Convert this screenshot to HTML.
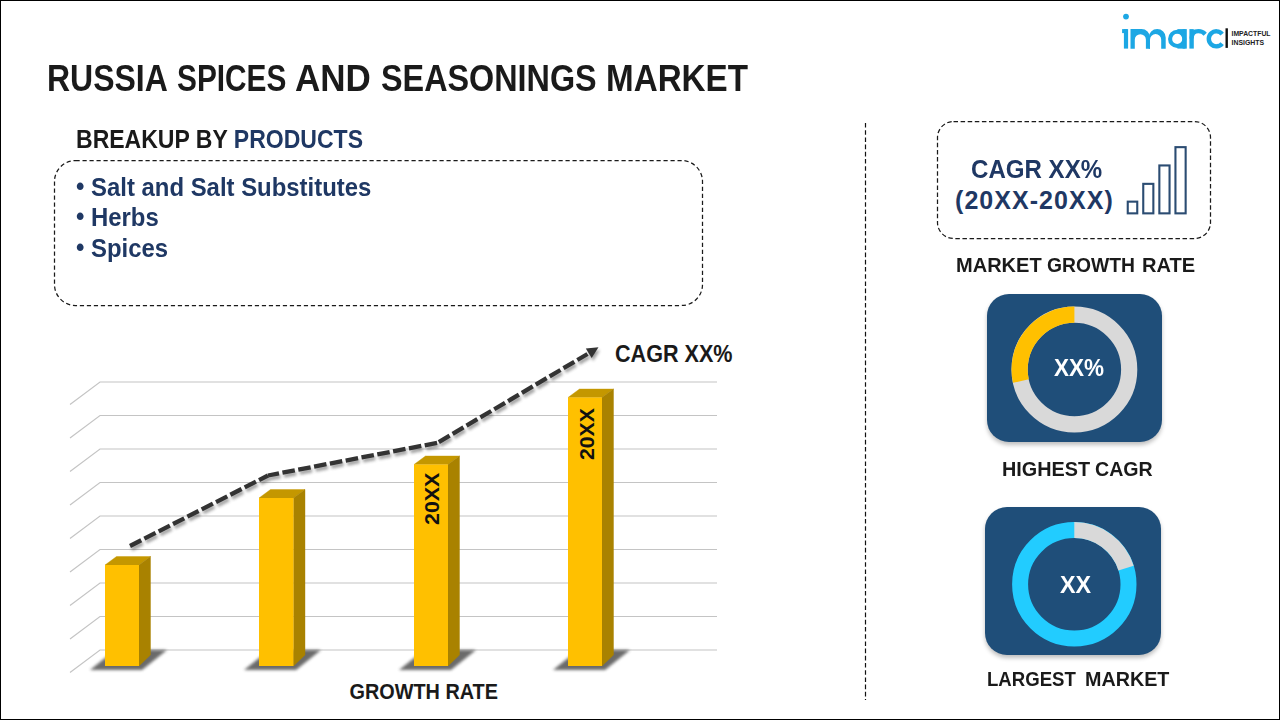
<!DOCTYPE html>
<html><head><meta charset="utf-8">
<style>
*{margin:0;padding:0;box-sizing:border-box}
html,body{width:1280px;height:720px;overflow:hidden;background:#fff}
body{position:relative;font-family:"Liberation Sans",sans-serif;font-weight:bold;color:#1a1a1a}
#frame{position:absolute;left:0;top:0;width:1280px;height:720px;border:1px solid #000}
.a{position:absolute;white-space:nowrap;line-height:1}
.tw{top:60px;font-size:37px;color:#1a1a1a;transform-origin:0 0}
#breakup{left:76px;top:126.5px;font-size:25.5px;transform:scaleX(0.903);transform-origin:0 0}
#breakup span{color:#1f3864}
.bl{font-size:25px;color:#1f3864;left:91px;transform:scaleX(0.9565);transform-origin:0 0}
.bul{left:76px;margin-top:1px}
.card{position:absolute;background:#1f4e79;border-radius:22px;box-shadow:0 3px 4px rgba(0,0,0,.25)}
.lbl{font-size:21px;color:#1a1a1a;transform-origin:0 0}
</style></head>
<body>
<div id="frame"></div>

<!-- logo -->
<svg class="a" style="left:1110px;top:5px" width="170" height="55" viewBox="1110 5 170 55">
  <g fill="#1ca7e4">
    <circle cx="1126" cy="16.6" r="2.9"/>
    <rect x="1123.9" y="29.1" width="4.2" height="19.5"/>
    <rect x="1122.1" y="29.1" width="5" height="4"/>
        <path d="M1130.5,48.7 V29.1 H1141.5 A8.5,8.5 0 0 1 1150,37.6 V48.7 H1145.9 V39.7 A5.55,5.55 0 0 0 1134.8,39.7 V48.7 Z"/>
    <path d="M1148.7,48.7 V37.6 A8.5,8.5 0 0 1 1165.7,37.6 V48.7 H1161.2 V39.7 A5.6,5.6 0 0 0 1150,39.7 V48.7 Z"/>
    <rect x="1189.4" y="29.1" width="4.4" height="19.5"/>
    <rect x="1182.6" y="29.1" width="4.2" height="19.5"/>
    <rect x="1177.4" y="29.1" width="8" height="4.2"/>
    <rect x="1177.4" y="44.4" width="8" height="4.2"/>
  </g>
  <g fill="none" stroke="#1ca7e4" stroke-width="4.3">
    <circle cx="1177.2" cy="38.9" r="7.1" stroke-width="4.1"/>
    <path d="M1191.6,38.5 Q1191.6,31.2 1198.5,31.2 Q1202.5,31.2 1205.2,34.2"/>
    <path d="M1222.13,34.13 A7.5,7.5 0 1 0 1222.13,43.57" stroke-width="4.45"/>
  </g>
  <rect x="1225.5" y="28.3" width="2.4" height="19.6" fill="#111"/>
  <text x="1231.5" y="36.2" font-family="Liberation Sans" font-weight="bold" font-size="7.4" fill="#222" textLength="39" lengthAdjust="spacingAndGlyphs">IMPACTFUL</text>
  <text x="1231.5" y="44.8" font-family="Liberation Sans" font-weight="bold" font-size="7.4" fill="#222" textLength="32.5" lengthAdjust="spacingAndGlyphs">INSIGHTS</text>
</svg>

<div class="a tw" style="left:47.37px;transform:scaleX(0.8642)">RUSSIA</div><div class="a tw" style="left:177.29px;transform:scaleX(0.806)">SPICES</div><div class="a tw" style="left:295.45px;transform:scaleX(0.9462)">AND</div><div class="a tw" style="left:380.83px;transform:scaleX(0.8742)">SEASONINGS</div><div class="a tw" style="left:605.91px;transform:scaleX(0.8974)">MARKET</div>
<div class="a" id="breakup">BREAKUP BY <span>PRODUCTS</span></div>
<svg class="a" style="left:0;top:0" width="1280" height="720" viewBox="0 0 1280 720">
  <rect x="54.5" y="160.5" width="648" height="145" rx="21" fill="none" stroke="#1a1a1a" stroke-width="1.25" stroke-dasharray="4.2 2.8"/>
  <rect x="937.5" y="121.5" width="273" height="117" rx="16" fill="none" stroke="#1a1a1a" stroke-width="1.25" stroke-dasharray="4.5 2.6"/>
  <line x1="865.5" y1="123" x2="865.5" y2="700" stroke="#111" stroke-width="1.2" stroke-dasharray="4.6 2.6"/>
</svg>
<div class="a bl bul" style="top:173px">•</div><div class="a bl" style="top:174.5px">Salt and Salt Substitutes</div>
<div class="a bl bul" style="top:203px">•</div><div class="a bl" style="top:205px">Herbs</div>
<div class="a bl bul" style="top:234px">•</div><div class="a bl" style="top:236px">Spices</div>

<!-- chart -->
<svg class="a" style="left:0;top:330px" width="860" height="390" viewBox="0 330 860 390">
  <defs>
    <filter id="sh" x="-50%" y="-50%" width="200%" height="200%"><feGaussianBlur stdDeviation="1.6"/></filter>
    <filter id="lsh" x="-10%" y="-10%" width="120%" height="120%"><feGaussianBlur stdDeviation="1.5"/></filter>
  </defs>
  <g stroke="#c4c4c4" stroke-width="1.2" fill="none">
    <polyline points="70,404.5 100,382 717,382"/>
    <polyline points="70,438 100,415.5 717,415.5"/>
    <polyline points="70,471.5 100,449 717,449"/>
    <polyline points="70,505 100,482.5 717,482.5"/>
    <polyline points="70,538.5 100,516 717,516"/>
    <polyline points="70,572 100,549.5 717,549.5"/>
    <polyline points="70,605.5 100,583 717,583"/>
    <polyline points="70,639 100,616.5 717,616.5"/>
    <polyline points="70,672.5 100,650 717,650"/>
  </g>
  <!-- bar shadows -->
  <g fill="#5a5a5a" opacity="0.9" filter="url(#sh)">
    <polygon points="90,670 142,670 167,650 115,650"/>
    <polygon points="244,670 296,670 321,650 269,650"/>
    <polygon points="399,670 451,670 476,650 424,650"/>
    <polygon points="553,670 605,670 630,650 578,650"/>
  </g>
  <!-- bars -->
  <g>
    <polygon points="105,565 139,565 150.5,556.5 116.5,556.5" fill="#c49700" stroke="#c49700" stroke-width="0.4"/>
    <polygon points="139,565 150.5,556.5 150.5,655 139,666" fill="#a98200" stroke="#a98200" stroke-width="0.4"/>
    <rect x="105" y="565" width="34" height="101" fill="#ffc000"/>

    <polygon points="259,498 293.5,498 305,489.5 270.5,489.5" fill="#c49700" stroke="#c49700" stroke-width="0.4"/>
    <polygon points="293.5,498 305,489.5 305,655 293.5,666" fill="#a98200" stroke="#a98200" stroke-width="0.4"/>
    <rect x="259" y="498" width="34.5" height="168" fill="#ffc000"/>

    <polygon points="414,464.5 448,464.5 459.5,456 425.5,456" fill="#c49700" stroke="#c49700" stroke-width="0.4"/>
    <polygon points="448,464.5 459.5,456 459.5,655 448,666" fill="#a98200" stroke="#a98200" stroke-width="0.4"/>
    <rect x="414" y="464.5" width="34" height="201.5" fill="#ffc000"/>

    <polygon points="568,397.5 602,397.5 613.5,389 579.5,389" fill="#c49700" stroke="#c49700" stroke-width="0.4"/>
    <polygon points="602,397.5 613.5,389 613.5,655 602,666" fill="#a98200" stroke="#a98200" stroke-width="0.4"/>
    <rect x="568" y="397.5" width="34" height="268.5" fill="#ffc000"/>
  </g>
  <text transform="translate(439,525) rotate(-90)" font-family="Liberation Sans" font-weight="bold" font-size="20" fill="#111" textLength="52.3" lengthAdjust="spacingAndGlyphs">20XX</text>
  <text transform="translate(593.5,460) rotate(-90)" font-family="Liberation Sans" font-weight="bold" font-size="20" fill="#111" textLength="51.8" lengthAdjust="spacingAndGlyphs">20XX</text>
  <!-- trend line -->
  <g filter="url(#lsh)" opacity="0.45" transform="translate(1.5,3)">
    <line x1="130" y1="546" x2="268" y2="475.5" stroke="#333" stroke-width="4.3" stroke-dasharray="12.6 3.5" stroke-dashoffset="0"/>
    <line x1="268" y1="475.5" x2="437.5" y2="442.8" stroke="#333" stroke-width="4.3" stroke-dasharray="12.6 3.5" stroke-dashoffset="1.4"/>
    <line x1="437.5" y1="442.8" x2="587.5" y2="354" stroke="#333" stroke-width="4.3" stroke-dasharray="12.6 3.5" stroke-dashoffset="-1.5"/>
    <polygon points="585.8,348.5 598.5,347.3 591.7,358" fill="#333"/>
  </g>
  <g>
    <line x1="130" y1="546" x2="268" y2="475.5" stroke="#333" stroke-width="4.3" stroke-dasharray="12.6 3.5" stroke-dashoffset="0"/>
    <line x1="268" y1="475.5" x2="437.5" y2="442.8" stroke="#333" stroke-width="4.3" stroke-dasharray="12.6 3.5" stroke-dashoffset="1.4"/>
    <line x1="437.5" y1="442.8" x2="587.5" y2="354" stroke="#333" stroke-width="4.3" stroke-dasharray="12.6 3.5" stroke-dashoffset="-1.5"/>
  </g>
  <polygon points="585.8,348.5 598.5,347.3 591.7,358" fill="#333"/>
  <text x="615" y="361.7" font-family="Liberation Sans" font-weight="bold" font-size="24" fill="#1a1a1a" textLength="117.5" lengthAdjust="spacingAndGlyphs">CAGR XX%</text>
  <text x="349.5" y="699" font-family="Liberation Sans" font-weight="bold" font-size="21.8" fill="#1a1a1a" textLength="148.5" lengthAdjust="spacingAndGlyphs">GROWTH RATE</text>
</svg>



<!-- right panel -->

<div class="a" style="left:970.5px;top:156.5px;font-size:25px;color:#1f3864;transform:scaleX(0.963);transform-origin:0 0">CAGR XX%</div>
<div class="a" style="left:955px;top:187.5px;font-size:25px;color:#1f3864;letter-spacing:1.05px">(20XX-20XX)</div>
<svg class="a" style="left:1120px;top:140px" width="75" height="80" viewBox="1120 140 75 80">
  <g fill="none" stroke="#2b4c72" stroke-width="2.1">
    <rect x="1127.75" y="201.65" width="9.5" height="11.7"/>
    <rect x="1143.25" y="183.85" width="10.1" height="29.5"/>
    <rect x="1159.35" y="165.45" width="10.2" height="47.9"/>
    <rect x="1175.45" y="147.15" width="10.2" height="66.2"/>
  </g>
</svg>
<div class="a lbl" style="left:956.45px;top:253.5px;transform:scaleX(0.9539)">MARKET</div><div class="a lbl" style="left:1046.78px;top:253.5px;transform:scaleX(0.9191)">GROWTH</div><div class="a lbl" style="left:1142.44px;top:253.5px;transform:scaleX(0.9556)">RATE</div>

<div class="card" style="left:987px;top:294px;width:175px;height:147.5px"></div>
<svg class="a" style="left:1000px;top:295px" width="150" height="150" viewBox="1000 295 150 150">
  <circle cx="1074.4" cy="369.5" r="54.8" fill="none" stroke="#d9d9d9" stroke-width="16.2"/>
  <path d="M1074.4,314.7 A54.8,54.8 0 0 0 1020.84,381.08" fill="none" stroke="#ffc000" stroke-width="16.2"/>
</svg>
<div class="a" style="left:1054px;top:355.5px;font-size:24.5px;color:#fff;transform:scaleX(0.918);transform-origin:0 0">XX%</div>
<div class="a lbl" style="left:1002.16px;top:458.2px;transform:scaleX(0.9435)">HIGHEST</div><div class="a lbl" style="left:1095.47px;top:458.2px;transform:scaleX(0.9333)">CAGR</div>

<div class="card" style="left:985px;top:507px;width:175.5px;height:148px"></div>
<svg class="a" style="left:1000px;top:510px" width="150" height="150" viewBox="1000 510 150 150">
  <circle cx="1074.3" cy="584.3" r="54.2" fill="none" stroke="#22ccff" stroke-width="16"/>
  <path d="M1074.3,530.0999999999999 A54.2,54.2 0 0 1 1126.02,568.09" fill="none" stroke="#d9d9d9" stroke-width="16"/>
</svg>
<div class="a" style="left:1059.5px;top:572.5px;font-size:24.5px;color:#fff;transform:scaleX(0.95);transform-origin:0 0">XX</div>
<div class="a lbl" style="left:987.21px;top:668.2px;transform:scaleX(0.8859)">LARGEST</div><div class="a lbl" style="left:1085.36px;top:668.2px;transform:scaleX(0.9393)">MARKET</div>

</body></html>
